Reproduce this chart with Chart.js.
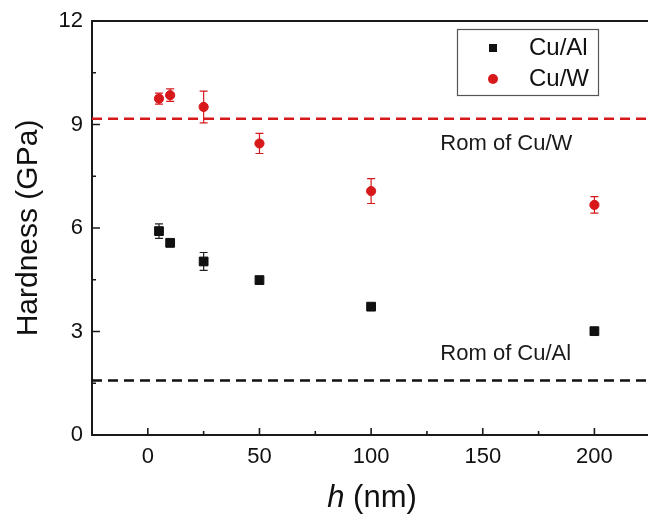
<!DOCTYPE html>
<html>
<head>
<meta charset="utf-8">
<script src="https://cdn.jsdelivr.net/npm/chart.js@4.4.1/dist/chart.umd.min.js"></script>
<style>
    html, body { margin: 0; padding: 0; background: #fff; overflow: hidden; }
    canvas { display: block; }
</style>
</head>
<body>
<canvas id="hardnessChart" width="648" height="520"></canvas>
<script>
// Data
const hValues = [5, 10, 25, 50, 100, 200];
const cuAlHardness = [5.91, 5.57, 5.03, 4.49, 3.72, 3.01];
const cuAlError = [0.21, 0.11, 0.26, 0.10, 0.08, 0.05];
const cuWHardness = [9.75, 9.85, 9.51, 8.45, 7.07, 6.67];
const cuWError = [0.16, 0.18, 0.46, 0.29, 0.36, 0.24];
const romCuW = 9.17;
const romCuAl = 1.58;

const xTicks = [0, 50, 100, 150, 200];
const xMinorTicks = [25, 75, 125, 175];
const yTicks = [0, 3, 6, 9, 12];
const yMinorTicks = [1.5, 4.5, 7.5, 10.5];

const FONT = '"Liberation Sans", Arial, sans-serif';
const RED = '#d7191c';
const BLACK = '#111111';

function toPoints(xs, ys) {
    return xs.map((x, i) => ({ x: x, y: ys[i] }));
}

// top frame line, inward tick marks and error bars
const frameTicks = {
    id: 'frameTicks',
    beforeDatasetsDraw(chart) {
        const { ctx, chartArea: a, scales: { x, y } } = chart;
        ctx.save();
        ctx.strokeStyle = '#1a1a1a';
        ctx.lineWidth = 2;
        ctx.beginPath();
        ctx.moveTo(a.left, a.top);
        ctx.lineTo(a.right, a.top);
        ctx.stroke();

        ctx.lineWidth = 1.6;
        ctx.beginPath();
        xTicks.forEach(v => {
            const px = x.getPixelForValue(v);
            ctx.moveTo(px, a.bottom);
            ctx.lineTo(px, a.bottom - 7);
        });
        xMinorTicks.forEach(v => {
            const px = x.getPixelForValue(v);
            ctx.moveTo(px, a.bottom);
            ctx.lineTo(px, a.bottom - 4);
        });
        yTicks.forEach(v => {
            const py = y.getPixelForValue(v);
            ctx.moveTo(a.left, py);
            ctx.lineTo(a.left + 8, py);
        });
        yMinorTicks.forEach(v => {
            const py = y.getPixelForValue(v);
            ctx.moveTo(a.left, py);
            ctx.lineTo(a.left + 4, py);
        });
        ctx.stroke();

        function errBars(vals, errs, color) {
            ctx.strokeStyle = color;
            ctx.lineWidth = 1.2;
            ctx.beginPath();
            hValues.forEach((h, i) => {
                const px = x.getPixelForValue(h);
                const top = y.getPixelForValue(vals[i] + errs[i]);
                const bot = y.getPixelForValue(vals[i] - errs[i]);
                ctx.moveTo(px, top);
                ctx.lineTo(px, bot);
                ctx.moveTo(px - 4, top);
                ctx.lineTo(px + 4, top);
                ctx.moveTo(px - 4, bot);
                ctx.lineTo(px + 4, bot);
            });
            ctx.stroke();
        }
        errBars(cuAlHardness, cuAlError, '#222');
        errBars(cuWHardness, cuWError, RED);
        ctx.restore();
    },
    afterDraw(chart) {
        const { ctx, chartArea: a, scales: { x, y } } = chart;
        ctx.save();

        // x title, italic h
        ctx.fillStyle = BLACK;
        ctx.textBaseline = 'middle';
        ctx.textAlign = 'left';
        ctx.font = 'italic 31px ' + FONT;
        const w1 = ctx.measureText('h').width;
        ctx.font = '31px ' + FONT;
        const w2 = ctx.measureText(' (nm)').width;
        const start = 372 - (w1 + w2) / 2;
        ctx.font = 'italic 31px ' + FONT;
        ctx.fillText('h', start, 498);
        ctx.font = '31px ' + FONT;
        ctx.fillText(' (nm)', start + w1, 498);

        // annotations
        ctx.font = '22px ' + FONT;
        ctx.fillStyle = '#1a1a1a';
        ctx.fillText('Rom of Cu/W', x.getPixelForValue(131), y.getPixelForValue(8.45));
        ctx.fillText('Rom of Cu/Al', x.getPixelForValue(131), y.getPixelForValue(2.36));

        // legend box
        ctx.strokeStyle = '#555';
        ctx.lineWidth = 1.2;
        ctx.strokeRect(457.5, 29.5, 141, 66);
        ctx.fillStyle = BLACK;
        ctx.fillRect(489, 44, 8, 8);
        ctx.fillStyle = RED;
        ctx.beginPath();
        ctx.arc(493, 79, 5, 0, Math.PI * 2);
        ctx.fill();
        ctx.fillStyle = BLACK;
        ctx.font = '24px ' + FONT;
        ctx.fillText('Cu/Al', 529, 48);
        ctx.fillText('Cu/W', 529, 79);
        ctx.restore();
    }
};

const ctx = document.getElementById('hardnessChart').getContext('2d');

const hardnessChart = new Chart(ctx, {
    type: 'scatter',
    data: {
        datasets: [
            {
                label: 'Rom of Cu/W',
                type: 'line',
                showLine: true,
                data: [{ x: -25, y: romCuW }, { x: 224, y: romCuW }],
                borderColor: RED,
                borderWidth: 2.5,
                borderDash: [10, 6],
                pointRadius: 0
            },
            {
                label: 'Rom of Cu/Al',
                type: 'line',
                showLine: true,
                data: [{ x: -25, y: romCuAl }, { x: 224, y: romCuAl }],
                borderColor: BLACK,
                borderWidth: 2.5,
                borderDash: [10, 6],
                pointRadius: 0
            },
            {
                label: 'Cu/Al',
                data: toPoints(hValues, cuAlHardness),
                pointStyle: 'rect',
                pointRadius: 6.2,
                backgroundColor: BLACK,
                borderColor: BLACK,
                borderWidth: 1
            },
            {
                label: 'Cu/W',
                data: toPoints(hValues, cuWHardness),
                pointStyle: 'circle',
                pointRadius: 4.6,
                backgroundColor: RED,
                borderColor: RED,
                borderWidth: 1
            }
        ]
    },
    options: {
        responsive: false,
        animation: false,
        layout: {
            autoPadding: false,
            padding: { top: 21, right: 0, left: 0, bottom: 0 }
        },
        scales: {
            x: {
                type: 'linear',
                min: -25,
                max: 224,
                afterBuildTicks: s => { s.ticks = xTicks.map(v => ({ value: v })); },
                afterFit: s => { s.height = 85; s.paddingLeft = 0; s.paddingRight = 0; },
                grid: { drawOnChartArea: false, drawTicks: false },
                border: { display: true, color: '#1a1a1a', width: 2 },
                ticks: {
                    color: BLACK,
                    padding: 9,
                    font: { family: FONT, size: 22 }
                }
            },
            y: {
                min: 0,
                max: 12,
                afterBuildTicks: s => { s.ticks = yTicks.map(v => ({ value: v })); },
                afterFit: s => { s.width = 92; s.paddingTop = 0; s.paddingBottom = 0; },
                grid: { drawOnChartArea: false, drawTicks: false },
                border: { display: true, color: '#1a1a1a', width: 2 },
                ticks: {
                    color: BLACK,
                    padding: 9,
                    font: { family: FONT, size: 22 }
                },
                title: {
                    display: true,
                    text: 'Hardness (GPa)',
                    color: BLACK,
                    font: { family: FONT, size: 30 },
                    padding: { top: 11, bottom: 0 }
                }
            }
        },
        plugins: {
            legend: { display: false },
            tooltip: { enabled: false }
        }
    },
    plugins: [frameTicks]
});
</script>
</body>
</html>
